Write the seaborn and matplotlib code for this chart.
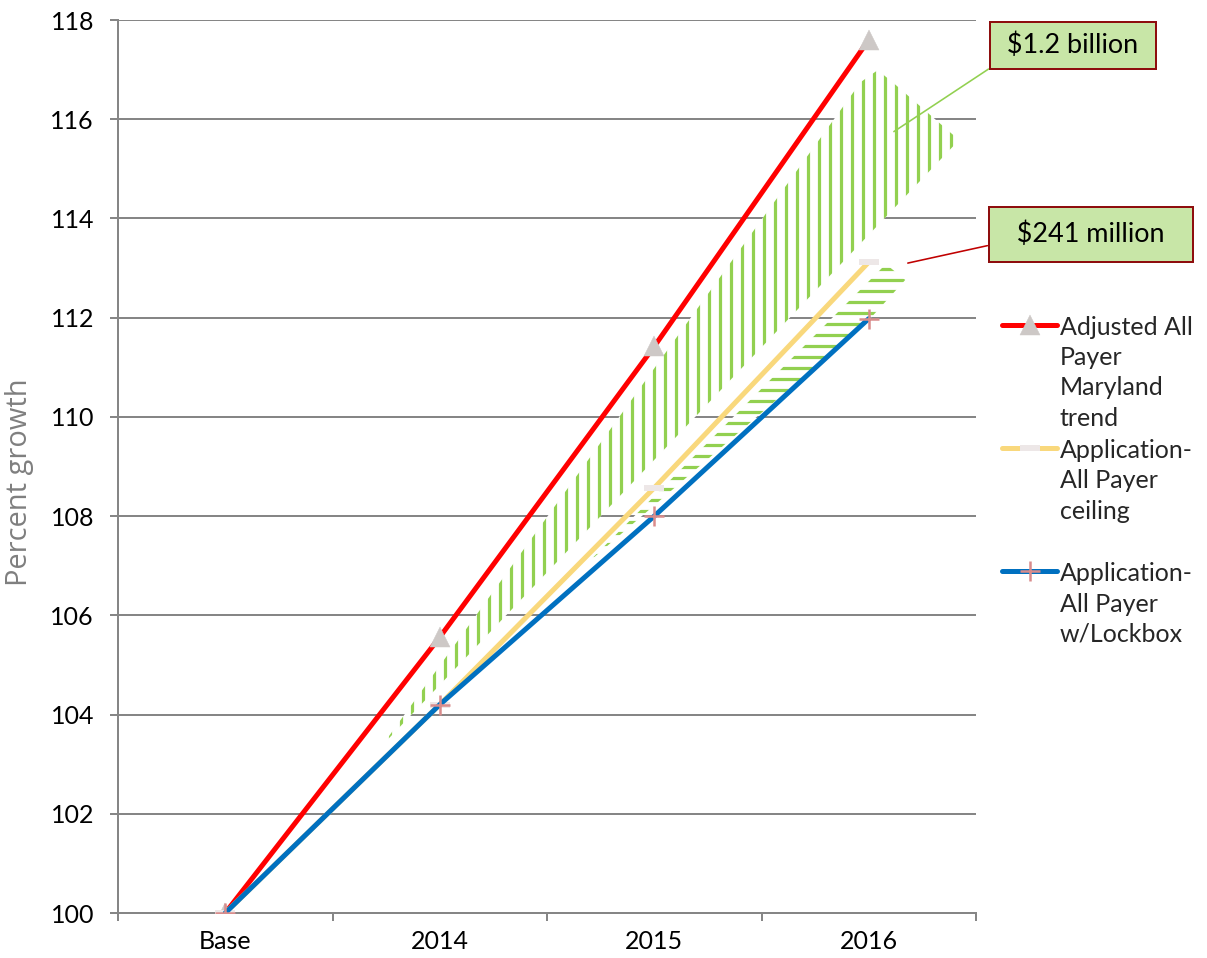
import numpy as np
import pandas as pd
import matplotlib
matplotlib.use("Agg")
import matplotlib.pyplot as plt
import seaborn as sns

# ---------------- data ----------------
categories = ["Base", "2014", "2015", "2016"]
adjusted_trend = [100, 105.56, 111.42, 117.6]
ceiling_trend = [100, 104.2, 108.57, 113.12]
lockbox_trend = [100, 104.2, 108.0, 111.98]
series_labels = [
    "Adjusted All\nPayer\nMaryland\ntrend",
    "Application-\nAll Payer\nceiling\n",
    "Application-\nAll Payer\nw/Lockbox",
]
y_ticks = list(range(100, 119, 2))

# hatched gap shapes (data coordinates, category index on x)
upper_gap_x = [0.734, 2.963, 3.042, 3.126, 3.421]
upper_gap_y = [103.39, 116.75, 116.99, 116.69, 115.58]
lower_gap_x = [1.69, 3.08, 3.17, 3.0]
lower_gap_y = [107.06, 113.08, 112.76, 111.95]

callout_texts = [r" \$1.2 billion ", r"  \$241 million  "]
callout_targets = [(3.117, 115.75), (3.182, 113.1)]

# ---------------- style ----------------
DPI = 66
PT = 72.0 / DPI  # points per pixel
W, H = 1207, 958

sns.set_theme(style="white")
plt.rcParams["font.family"] = ["Lato", "DejaVu Sans"]
plt.rcParams["hatch.linewidth"] = 3.2 * PT

GRID = "#868686"
FS = 25 * PT

fig = plt.figure(figsize=(W / DPI, H / DPI), dpi=DPI)
ax = fig.add_axes([118 / W, 1 - 913 / H, (976 - 118) / W, (913 - 20) / H])

# hatched areas
ax.fill(upper_gap_x, upper_gap_y, facecolor="white", edgecolor="#92D050",
        hatch="|", lw=0, zorder=1.5)
ax.fill(lower_gap_x, lower_gap_y, facecolor="white", edgecolor="#92D050",
        hatch="-", lw=0, zorder=1.5)

df = pd.DataFrame({"category": categories, "adjusted": adjusted_trend,
                   "ceiling": ceiling_trend, "lockbox": lockbox_trend})

sns.lineplot(data=df, x="category", y="adjusted", ax=ax, sort=False,
             color="#FF0000", lw=5 * PT, marker="^", markersize=20 * PT,
             markerfacecolor="#CDC8C6", markeredgecolor="#CDC8C6",
             markeredgewidth=0.5, label=series_labels[0], zorder=3)
sns.lineplot(data=df, x="category", y="ceiling", ax=ax, sort=False,
             color="#F9D87C", lw=5 * PT, marker="_", markersize=20 * PT,
             markeredgecolor="#EDE7E7", markeredgewidth=6 * PT,
             label=series_labels[1], zorder=3.1)
sns.lineplot(data=df, x="category", y="lockbox", ax=ax, sort=False,
             color="#0070C0", lw=5 * PT, marker="+", markersize=20 * PT,
             markeredgecolor="#D98C8C", markeredgewidth=2.5 * PT,
             label=series_labels[2], zorder=3.2)

# axes
ax.set_xlim(-0.5, 3.5)
ax.set_ylim(100, 118)
ax.set_yticks(y_ticks)
ax.set_xticks(range(len(categories)))
ax.set_xticklabels(categories)
ax.set_xticks(np.arange(-0.5, len(categories), 1.0), minor=True)
ax.yaxis.grid(True, color=GRID, lw=2 * PT)
ax.set_axisbelow(True)
for s in ["top", "right"]:
    ax.spines[s].set_visible(False)
for s in ["left", "bottom"]:
    ax.spines[s].set_color(GRID)
    ax.spines[s].set_linewidth(2 * PT)
ax.tick_params(axis="y", length=8 * PT, width=2 * PT, color=GRID,
               pad=16 * PT, labelsize=FS, labelcolor="black", left=True)
ax.tick_params(axis="x", which="major", length=0, pad=17 * PT,
               labelsize=FS, labelcolor="black")
ax.tick_params(axis="x", which="minor", length=8 * PT, width=2 * PT,
               color=GRID, bottom=True)
ax.set_xlabel("")
ax.set_ylabel("Percent growth", fontsize=29 * PT, color="#7F7F7F",
              family=["Open Sans", "DejaVu Sans"])
ax.yaxis.set_label_coords((34 - 118) / 858, (913 - 482) / 893)

# legend
handles, labels = ax.get_legend_handles_labels()
if ax.get_legend() is not None:
    ax.get_legend().remove()
leg = ax.legend(handles, labels, loc="upper left",
                bbox_to_anchor=(1002 / W, 1 - 316 / H),
                bbox_transform=fig.transFigure, frameon=False,
                fontsize=FS, handlelength=55 / 25, handletextpad=0.12,
                labelspacing=0.38, borderpad=0, borderaxespad=0)
for t in leg.get_texts():
    t.set_linespacing(1.38)
for col in leg._legend_handle_box.get_children():
    for item in col.get_children():
        item.align = "top"

# callouts
box_centers = [(1073, H - 45.5), (1091, H - 234.5)]
line_colors = ["#92D050", "#C00000"]
relposes = [(0.03, 0.0), (0.0, 0.2)]
pads = [0.4, 0.55]
for txt, tgt, ctr, lc, rp, pd_ in zip(callout_texts, callout_targets,
                                      box_centers, line_colors, relposes, pads):
    ax.annotate(txt, xy=tgt, xycoords="data", xytext=ctr,
                textcoords="figure pixels", ha="center", va="center",
                fontsize=27 * PT, color="black",
                bbox=dict(boxstyle=f"square,pad={pd_}", fc="#C8E6A7",
                          ec="#8E0E0E", lw=2 * PT),
                arrowprops=dict(arrowstyle="-", color=lc, lw=1.6 * PT,
                                shrinkA=0, shrinkB=0, relpos=rp),
                zorder=5, annotation_clip=False)

fig.savefig("out.png", dpi=DPI)
